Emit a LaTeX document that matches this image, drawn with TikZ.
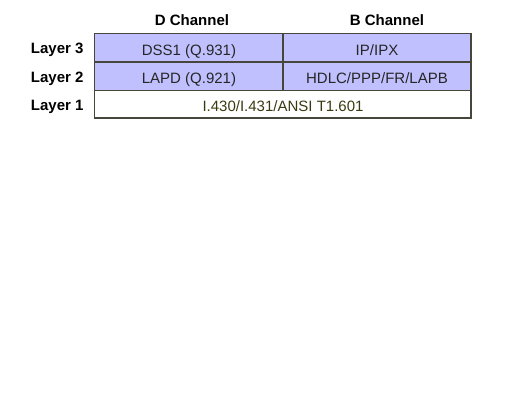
\documentclass[tikz,border=0pt]{standalone}
\usepackage{fontspec}
\setmainfont{Liberation Sans}
\definecolor{cellfill}{HTML}{C0C0FF}
\definecolor{cellline}{HTML}{46463A}
\definecolor{phytext}{HTML}{3A3A10}
\tikzset{
  grid line/.style={draw=cellline, line width=1.1pt},
  celltext/.style={font=\fontsize{15}{17}\selectfont, text=black!85, anchor=base},
  layerlabel/.style={font=\bfseries\fontsize{15}{17}\selectfont, anchor=base east},
  chanlabel/.style={font=\bfseries\fontsize{15}{17}\selectfont, anchor=base}
}
\begin{document}
\begin{tikzpicture}[x=1pt,y=-1pt]
				\useasboundingbox (0,0) rectangle (523,410);

				% channel headings
				\node[chanlabel] (dhead) at (192,25) {D Channel};
				\node[chanlabel] (bhead) at (387,25) {B Channel};

				% layer labels
				\node[layerlabel] (l3) at (87,53.5) {Layer 3};
				\node[layerlabel] (l2) at (87,82.5) {Layer 2};
				\node[layerlabel] (l1) at (87,110.5) {Layer 1};

				% cells
				\fill[cellfill] (94.5,33.5) rectangle (471,90.5);
				\draw[grid line] (94.5,33.5) rectangle (471,118);
				\draw[grid line] (94.5,62) -- (471,62);
				\draw[grid line] (94.5,90.5) -- (471,90.5);
				\draw[grid line] (283,33.5) -- (283,90.5);

				% cell texts
				\node[celltext] (dss) at (189,55) {DSS1 (Q.931)};
				\node[celltext] (ip) at (377,55) {IP/IPX};
				\node[celltext] (lapd) at (189,83.5) {LAPD (Q.921)};
				\node[celltext] (hdlc) at (377,83.5) {HDLC/PPP/FR/LAPB};
				\node[celltext, text=phytext] (phy) at (283,111) {I.430/I.431/ANSI T1.601};
\end{tikzpicture}
\end{document}
